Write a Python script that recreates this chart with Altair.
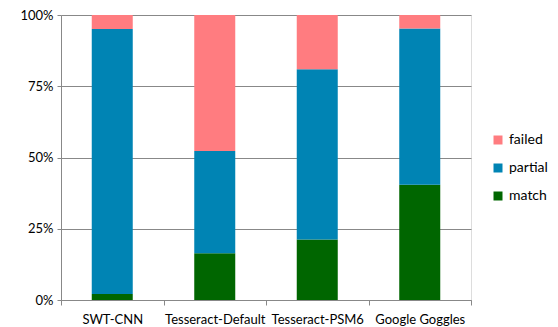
import altair as alt
import pandas as pd

systems = ["SWT-CNN", "Tesseract-Default", "Tesseract-PSM6", "Google Goggles"]
match = [2.1, 16.4, 21.2, 40.4]
partial = [93.0, 35.9, 59.8, 54.9]
failed = [4.9, 47.7, 19.0, 4.7]

series = ["failed", "partial", "match"]
colors = ["#FF7C80", "#0084B4", "#006600"]
stack_rank = {"match": 0, "partial": 1, "failed": 2}

rows = []
for i, s in enumerate(systems):
    for name, vals in (("match", match), ("partial", partial), ("failed", failed)):
        rows.append({"system": s, "result": name, "value": vals[i], "rank": stack_rank[name]})
df = pd.DataFrame(rows)

FONT = "Lato"

chart = alt.Chart(df).mark_bar(size=41).encode(
    x=alt.X("system:N", sort=systems, title=None,
            scale=alt.Scale(paddingInner=0, paddingOuter=0),
            axis=alt.Axis(labelAngle=0, tickBand="extent", domainColor="#888888",
                          tickColor="#888888", tickSize=5, labelFont=FONT, labelFontSize=13,
                          labelColor="#000000", labelPadding=8)),
    y=alt.Y("value:Q", stack="normalize", title=None,
            scale=alt.Scale(domain=[0, 1]),
            axis=alt.Axis(format="%", values=[0, 0.25, 0.5, 0.75, 1], gridColor="#888888",
                          domainColor="#888888", tickColor="#888888", tickSize=4,
                          labelFont=FONT, labelFontSize=13, labelColor="#000000",
                          labelPadding=4)),
    color=alt.Color("result:N", scale=alt.Scale(domain=series, range=colors),
                    legend=alt.Legend(title=None, orient="none", legendX=430, legendY=118,
                                      symbolType="square", symbolSize=81, symbolStrokeWidth=0,
                                      rowPadding=14, labelFont=FONT, labelFontSize=14,
                                      labelColor="#000000", labelOffset=4)),
    order=alt.Order("rank:Q", sort="ascending"),
).properties(
    width=410, height=285,
    autosize=alt.AutoSizeParams(type="none"),
    padding={"left": 61, "top": 15, "right": 87, "bottom": 27},
).configure_view(stroke=None).configure(background="#ffffff")

chart.save("out.html", embed_options={"renderer": "svg", "actions": False})
